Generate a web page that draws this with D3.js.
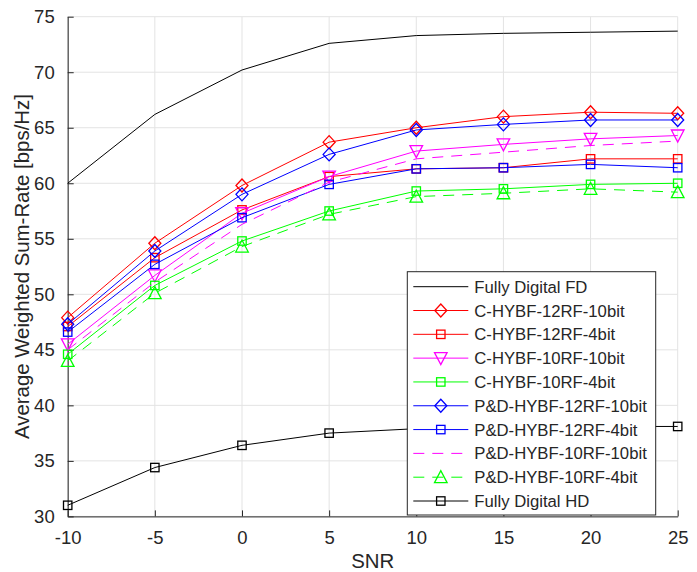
<!DOCTYPE html>
<html>
<head>
<meta charset="utf-8">
<script src="https://cdn.jsdelivr.net/npm/d3@7"></script>
<style>
  body { margin: 0; background: #fff; }
  svg { display: block; }
  text { font-family: "Liberation Sans", Arial, Helvetica, sans-serif; fill: #262626; }
</style>
</head>
<body>
<svg width="697" height="572"></svg>
<script>
// waarden
const snr = [-10, -5, 0, 5, 10, 15, 20, 25]
const xTicks = [-10, -5, 0, 5, 10, 15, 20, 25]
const yTicks = [30, 35, 40, 45, 50, 55, 60, 65, 70, 75]

const fullyDigitalFD = [60.0, 66.2, 70.2, 72.6, 73.3, 73.5, 73.6, 73.7]
const cHybf12rf10bit = [47.9, 54.6, 59.8, 63.7, 65.0, 66.0, 66.4, 66.3]
const cHybf12rf4bit = [47.1, 53.3, 57.6, 60.6, 61.3, 61.4, 62.2, 62.2]
const cHybf10rf10bit = [45.5, 51.7, 57.3, 60.6, 62.9, 63.5, 64.0, 64.3]
const cHybf10rf4bit = [44.6, 50.8, 54.8, 57.5, 59.3, 59.5, 59.9, 60.0]
const pdHybf12rf10bit = [47.3, 53.9, 59.0, 62.6, 64.8, 65.3, 65.7, 65.7]
const pdHybf12rf4bit = [46.6, 52.7, 56.9, 59.9, 61.3, 61.4, 61.7, 61.4]
const pdHybf10rf10bit = [45.0, 51.1, 56.3, 60.1, 62.2, 62.8, 63.4, 63.8]
const pdHybf10rf4bit = [44.0, 50.1, 54.3, 57.2, 58.8, 59.1, 59.5, 59.2]
const fullyDigitalHD = [31.0, 34.4, 36.4, 37.5, 37.9, 38.0, 38.1, 38.1]

// series in volgorde van de legenda
const series = [
    {name: 'Fully Digital FD', values: fullyDigitalFD, color: '#000000', marker: null, dash: null},
    {name: 'C-HYBF-12RF-10bit', values: cHybf12rf10bit, color: '#ff0000', marker: 'diamond', dash: null},
    {name: 'C-HYBF-12RF-4bit', values: cHybf12rf4bit, color: '#ff0000', marker: 'square', dash: null},
    {name: 'C-HYBF-10RF-10bit', values: cHybf10rf10bit, color: '#ff00ff', marker: 'triangleDown', dash: null},
    {name: 'C-HYBF-10RF-4bit', values: cHybf10rf4bit, color: '#00ff00', marker: 'square', dash: null},
    {name: 'P&D-HYBF-12RF-10bit', values: pdHybf12rf10bit, color: '#0000ff', marker: 'diamond', dash: null},
    {name: 'P&D-HYBF-12RF-4bit', values: pdHybf12rf4bit, color: '#0000ff', marker: 'square', dash: null},
    {name: 'P&D-HYBF-10RF-10bit', values: pdHybf10rf10bit, color: '#ff00ff', marker: null, dash: '11,8'},
    {name: 'P&D-HYBF-10RF-4bit', values: pdHybf10rf4bit, color: '#00ff00', marker: 'triangleUp', dash: '11,8'},
    {name: 'Fully Digital HD', values: fullyDigitalHD, color: '#000000', marker: 'square', dash: null}
]

const svg = d3.select('svg')
const margin = {top: 16.7, right: 19.3, bottom: 55.6, left: 67.7}
const innerWidth = 697 - margin.left - margin.right
const innerHeight = 572 - margin.top - margin.bottom

const xscale = d3.scaleLinear().domain([-10, 25]).range([0, innerWidth])
const yscale = d3.scaleLinear().domain([30, 75]).range([innerHeight, 0])

const g = svg.append('g')
    .attr('transform', `translate(${margin.left}, ${margin.top})`)

// rasterlijnen
g.append('g').selectAll('line').data(xTicks).enter().append('line')
    .attr('x1', d => xscale(d)).attr('x2', d => xscale(d))
    .attr('y1', 0).attr('y2', innerHeight)
    .attr('stroke', '#e3e3e3').attr('stroke-width', 1)
g.append('g').selectAll('line').data(yTicks).enter().append('line')
    .attr('y1', d => yscale(d)).attr('y2', d => yscale(d))
    .attr('x1', 0).attr('x2', innerWidth)
    .attr('stroke', '#e3e3e3').attr('stroke-width', 1)

// assen (gewoon streepje als minteken, zoals matlab)
const fmt = d => String(d)
const xAxis = d3.axisBottom(xscale).tickValues(xTicks).tickFormat(fmt).tickSizeInner(-6).tickSizeOuter(0).tickPadding(14)
const yAxis = d3.axisLeft(yscale).tickValues(yTicks).tickFormat(fmt).tickSizeInner(-6).tickSizeOuter(0).tickPadding(13)

const gx = g.append('g').attr('transform', `translate(0, ${innerHeight})`).call(xAxis)
const gy = g.append('g').call(yAxis)
gx.selectAll('text').style('font-size', '18.5px').attr('fill', '#262626')
gy.selectAll('text').style('font-size', '18.5px').attr('fill', '#262626')
gx.selectAll('line, path').attr('stroke', '#262626')
gy.selectAll('line, path').attr('stroke', '#262626')

// as labels
svg.append('text')
    .attr('x', margin.left + innerWidth / 2).attr('y', 568)
    .attr('text-anchor', 'middle').style('font-size', '20.4px')
    .text('SNR')
svg.append('text')
    .attr('transform', `translate(29, ${margin.top + innerHeight / 2}) rotate(-90)`)
    .attr('text-anchor', 'middle').style('font-size', '20.4px')
    .text('Average Weighted Sum-Rate [bps/Hz]')

// markers tekenen
function drawMarker(sel, type, color) {
    if (type === 'diamond') {
        sel.append('path').attr('d', 'M0,-6.5L6,0L0,6.5L-6,0Z')
    } else if (type === 'square') {
        sel.append('rect').attr('x', -4.2).attr('y', -4.2).attr('width', 8.4).attr('height', 8.4)
    } else if (type === 'triangleDown') {
        sel.append('path').attr('d', 'M-6.3,-5.5L6.3,-5.5L0,6.5Z')
    } else if (type === 'triangleUp') {
        sel.append('path').attr('d', 'M-6.3,5.5L6.3,5.5L0,-6.5Z')
    }
    sel.selectAll('path, rect').attr('fill', 'none').attr('stroke', color).attr('stroke-width', 1.3)
}

const line = d3.line()
    .x((d, i) => xscale(snr[i]))
    .y(d => yscale(d))

series.forEach(s => {
    const sg = g.append('g')
    sg.append('path')
        .attr('d', line(s.values))
        .attr('fill', 'none')
        .attr('stroke', s.color)
        .attr('stroke-width', 1)
        .attr('stroke-dasharray', s.dash)
    if (s.marker) {
        sg.selectAll('g.m').data(s.values).enter().append('g')
            .attr('class', 'm')
            .attr('transform', (d, i) => `translate(${xscale(snr[i])}, ${yscale(d)})`)
            .each(function () { drawMarker(d3.select(this), s.marker, s.color) })
    }
})

// legenda
const legX = 407.3, legY = 271.7, legW = 248.4, legH = 243.3
const legend = svg.append('g')
legend.append('rect')
    .attr('x', legX).attr('y', legY).attr('width', legW).attr('height', legH)
    .attr('fill', '#fff').attr('stroke', '#262626').attr('stroke-width', 1)

const rowY = d3.scaleLinear().domain([0, series.length - 1]).range([legY + 15, legY + 229.3])
series.forEach((s, i) => {
    const y = rowY(i)
    const row = legend.append('g')
    row.append('line')
        .attr('x1', legX + 6).attr('x2', legX + 61)
        .attr('y1', y).attr('y2', y)
        .attr('stroke', s.color).attr('stroke-width', 1)
        .attr('stroke-dasharray', s.dash)
    if (s.marker) {
        const m = row.append('g').attr('transform', `translate(${legX + 33.5}, ${y})`)
        drawMarker(m, s.marker, s.color)
    }
    row.append('text')
        .attr('x', legX + 67).attr('y', y).attr('dy', '0.36em')
        .style('font-size', '16.7px')
        .text(s.name)
})
</script>
</body>
</html>
